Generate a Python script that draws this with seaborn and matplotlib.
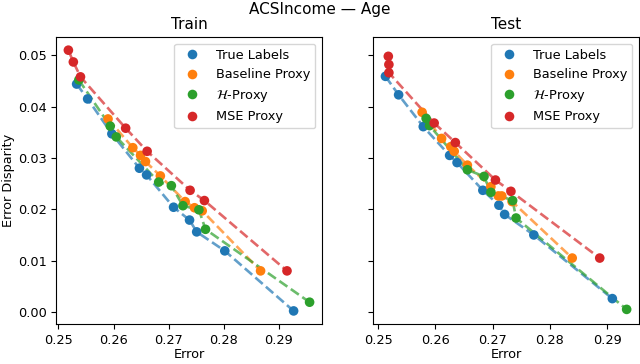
import seaborn as sns
import pandas as pd
import matplotlib.pyplot as plt

# Method names (legend order) and colors
methods = ["True Labels", "Baseline Proxy", r"$\mathcal{H}$-Proxy", "MSE Proxy"]
colors = ["#1f77b4", "#ff7f0e", "#2ca02c", "#d62728"]

# Train split: (error, error disparity)
train_true_err = [0.2533, 0.2553, 0.2597, 0.2647, 0.2660, 0.2709, 0.2738, 0.2751, 0.2802, 0.2927]
train_true_disp = [0.0444, 0.0415, 0.0347, 0.0280, 0.0267, 0.0204, 0.0179, 0.0156, 0.0119, 0.0002]
train_base_err = [0.2590, 0.2635, 0.2649, 0.2658, 0.2685, 0.2730, 0.2747, 0.2761, 0.2867]
train_base_disp = [0.0376, 0.0320, 0.0305, 0.0293, 0.0265, 0.0215, 0.0203, 0.0197, 0.0080]
train_h_err = [0.2537, 0.2594, 0.2605, 0.2682, 0.2705, 0.2726, 0.2755, 0.2767, 0.2956]
train_h_disp = [0.0452, 0.0362, 0.0341, 0.0253, 0.0246, 0.0207, 0.0199, 0.0161, 0.0019]
train_mse_err = [0.2518, 0.2527, 0.2540, 0.2622, 0.2661, 0.2739, 0.2765, 0.2915]
train_mse_disp = [0.0510, 0.0487, 0.0458, 0.0358, 0.0313, 0.0237, 0.0217, 0.0080]

# Test split
test_true_err = [0.2513, 0.2536, 0.2579, 0.2625, 0.2638, 0.2683, 0.2711, 0.2721, 0.2772, 0.2909]
test_true_disp = [0.0459, 0.0423, 0.0361, 0.0305, 0.0291, 0.0237, 0.0208, 0.0190, 0.0150, 0.0026]
test_base_err = [0.2577, 0.2611, 0.2627, 0.2633, 0.2656, 0.2697, 0.2710, 0.2716, 0.2734, 0.2839]
test_base_disp = [0.0389, 0.0338, 0.0322, 0.0313, 0.0286, 0.0244, 0.0226, 0.0226, 0.0215, 0.0105]
test_h_err = [0.2584, 0.2590, 0.2656, 0.2685, 0.2697, 0.2735, 0.2741, 0.2934]
test_h_disp = [0.0377, 0.0363, 0.0277, 0.0264, 0.0233, 0.0217, 0.0183, 0.0005]
test_mse_err = [0.2518, 0.2519, 0.2519, 0.2598, 0.2635, 0.2705, 0.2732, 0.2887]
test_mse_disp = [0.0498, 0.0482, 0.0466, 0.0368, 0.0330, 0.0257, 0.0235, 0.0105]

splits = {
    "Train": [(train_true_err, train_true_disp), (train_base_err, train_base_disp),
              (train_h_err, train_h_disp), (train_mse_err, train_mse_disp)],
    "Test": [(test_true_err, test_true_disp), (test_base_err, test_base_disp),
             (test_h_err, test_h_disp), (test_mse_err, test_mse_disp)],
}

plt.rcParams["font.size"] = 9.3

fig, axes = plt.subplots(1, 2, figsize=(6.4, 3.64), dpi=100, sharey=True)
palette = dict(zip(methods, colors))

for ax, (split, series) in zip(axes, splits.items()):
    rows = []
    for m, (err, disp) in zip(methods, series):
        for e, d in zip(err, disp):
            rows.append({"error": e, "disparity": d, "method": m})
    df = pd.DataFrame(rows)

    for m in methods:
        sub = df[df.method == m].sort_values("error")
        ax.plot(sub.error, sub.disparity, ls="--", lw=1.9, color=palette[m],
                alpha=0.7, zorder=1)
    sns.scatterplot(data=df, x="error", y="disparity", hue="method",
                    hue_order=methods, palette=palette, s=48,
                    edgecolor="none", ax=ax, zorder=2)
    ax.legend(loc="upper right", fontsize=9.3)
    ax.set_title(split, fontsize=11)
    ax.set_xlabel("Error", labelpad=1)
    ax.set_ylabel("Error Disparity", labelpad=2)

axes[1].set_ylabel("")
fig.suptitle("ACSIncome \u2014 Age", fontsize=11, y=0.995)
fig.subplots_adjust(left=0.088, right=0.998, bottom=0.11, top=0.898, wspace=0.195)
fig.savefig("out.png", dpi=100)
